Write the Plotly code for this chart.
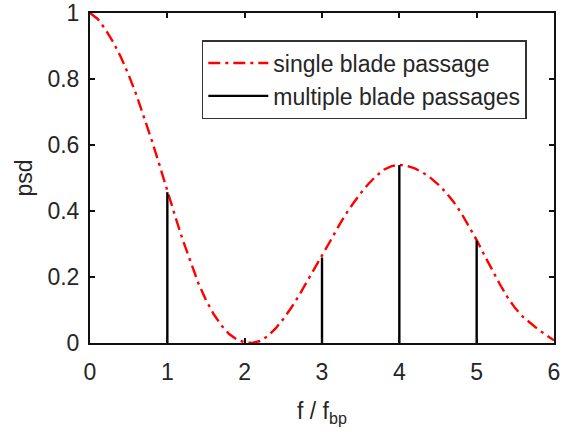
import plotly.graph_objects as go

# single blade passage psd curve
f_curve = [0.0, 0.1, 0.2, 0.3, 0.4, 0.5, 0.6, 0.7, 0.8, 0.9,
           1.0, 1.1, 1.2, 1.3, 1.4, 1.5, 1.6, 1.7, 1.8, 1.9,
           2.0, 2.1, 2.2, 2.3, 2.4, 2.5, 2.6, 2.7, 2.8, 2.9,
           3.0, 3.1, 3.2, 3.3, 3.4, 3.5, 3.6, 3.7, 3.8, 3.9,
           4.0, 4.1, 4.2, 4.3, 4.4, 4.5, 4.6, 4.7, 4.8, 4.9,
           5.0, 5.1, 5.2, 5.3, 5.4, 5.5, 5.6, 5.7, 5.8, 5.9, 6.0]
psd_single = [1.000, 0.982, 0.950, 0.912, 0.866, 0.812, 0.752, 0.685, 0.613, 0.538,
              0.460, 0.385, 0.312, 0.244, 0.182, 0.130, 0.087, 0.053, 0.027, 0.010,
              0.002, 0.000, 0.006, 0.021, 0.044, 0.073, 0.106, 0.143, 0.183, 0.223,
              0.262, 0.306, 0.348, 0.388, 0.422, 0.454, 0.482, 0.506, 0.525, 0.536,
              0.540, 0.537, 0.529, 0.517, 0.501, 0.481, 0.457, 0.428, 0.394, 0.355,
              0.312, 0.266, 0.221, 0.178, 0.138, 0.105, 0.079, 0.058, 0.040, 0.024, 0.008]

# multiple blade passages (discrete lines)
f_multi = [1, 3, 4, 5]
psd_multi = [0.457, 0.259, 0.539, 0.310]

x_ticks = [0, 1, 2, 3, 4, 5, 6]
y_ticks = [0, 0.2, 0.4, 0.6, 0.8, 1]
y_tick_labels = ["0", "0.2", "0.4", "0.6", "0.8", "1"]

stem_x, stem_y = [], []
for fx, py in zip(f_multi, psd_multi):
    stem_x += [fx, fx, None]
    stem_y += [0, py, None]

FONT = "Liberation Sans, Arial, sans-serif"
TXT = "#262626"

fig = go.Figure()
fig.add_trace(go.Scatter(
    x=f_curve, y=psd_single, mode="lines", name="single blade passage",
    line=dict(color="#ff0000", width=2.4, dash="12px,5px,3px,5px"),
))
fig.add_trace(go.Scatter(
    x=stem_x, y=stem_y, mode="lines", name="multiple blade passages",
    line=dict(color="#000000", width=2.4),
))

axis_common = dict(
    showline=True, linecolor="#111111", linewidth=2, mirror="ticks",
    ticks="inside", ticklen=5, tickwidth=1.5, tickcolor="#111111",
    showgrid=False, zeroline=False, automargin=False,
    tickfont=dict(family=FONT, size=23, color=TXT),
)

fig.update_layout(
    width=564, height=436,
    margin=dict(l=90, r=10, t=13, b=93),
    paper_bgcolor="white", plot_bgcolor="white",
    font=dict(family=FONT, size=22, color=TXT),
    xaxis=dict(range=[0, 6], tickvals=x_ticks,
               title=dict(text="f / f<sub>bp</sub>", font=dict(family=FONT, size=23, color=TXT), standoff=19),
               ticklabelstandoff=7, **axis_common),
    yaxis=dict(range=[0, 1], tickvals=y_ticks, ticktext=y_tick_labels,
               title=dict(text="psd", font=dict(family=FONT, size=23, color=TXT), standoff=8),
               ticklabelstandoff=4, **axis_common),
    legend=dict(x=0.241, y=0.918, xanchor="left", yanchor="top",
                bordercolor="#333333", borderwidth=1.5, bgcolor="white",
                font=dict(family=FONT, size=23, color=TXT),
                itemwidth=60, tracegroupgap=0),
    showlegend=True,
)

fig.write_html("out.html")
